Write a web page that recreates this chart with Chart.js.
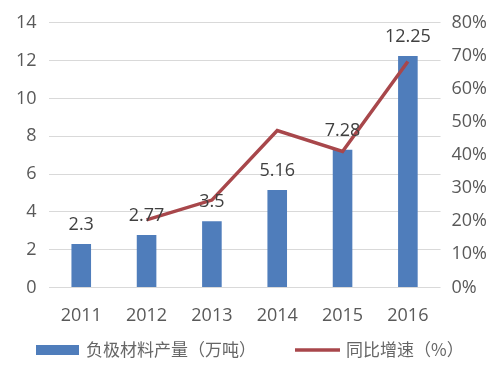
<!DOCTYPE html>
<html>
<head>
<meta charset="utf-8">
<script src="https://cdn.jsdelivr.net/npm/chart.js@4/dist/chart.umd.min.js"></script>
<style>
  html, body { margin: 0; padding: 0; background: #fff; }
  #wrap { width: 504px; height: 367px; }
</style>
</head>
<body>
<div id="wrap"><canvas id="chart" width="504" height="367"></canvas></div>
<script>
var years = ["2011", "2012", "2013", "2014", "2015", "2016"];
var output = [2.3, 2.77, 3.5, 5.16, 7.28, 12.25];
var growth = [null, 20.4, 26.4, 47.4, 41.1, 68.3];
var barName = "负极材料产量（万吨）";
var lineName = "同比增速（%）";

// labels above the bars
var barLabels = {
  id: "barLabels",
  afterDatasetsDraw: function(chart) {
    var ctx = chart.ctx;
    var meta = chart.getDatasetMeta(1);
    ctx.save();
    ctx.font = "18px 'Open Sans', sans-serif";
    ctx.fillStyle = "#404040";
    ctx.textAlign = "center";
    ctx.textBaseline = "middle";
    meta.data.forEach(function(bar, i) {
      ctx.fillText(String(output[i]), bar.x, bar.y - 19);
    });
    ctx.restore();
  }
};

// legend row at the bottom, spaced like the original
var bottomLegend = {
  id: "bottomLegend",
  afterDraw: function(chart) {
    var ctx = chart.ctx;
    var bar = chart.data.datasets[1];
    var line = chart.data.datasets[0];
    var y = 350;
    ctx.save();
    ctx.font = "17px 'Noto Sans CJK SC', sans-serif";
    ctx.textBaseline = "middle";
    ctx.fillStyle = bar.backgroundColor;
    ctx.fillRect(36, y - 5, 43, 10);
    ctx.fillStyle = "#666666";
    ctx.fillText(bar.label, 86, y);
    ctx.strokeStyle = line.borderColor;
    ctx.lineWidth = line.borderWidth;
    ctx.beginPath();
    ctx.moveTo(295, y);
    ctx.lineTo(340, y);
    ctx.stroke();
    ctx.fillText(line.label, 346, y);
    ctx.restore();
  }
};

var tickFont = { family: "'Open Sans', sans-serif", size: 18 };

var ctx = document.getElementById("chart").getContext("2d");
var chart = new Chart(ctx, {
  type: "bar",
  data: {
    labels: years,
    datasets: [
      {
        type: "line",
        label: lineName,
        data: growth,
        yAxisID: "y1",
        borderColor: "#a8474b",
        backgroundColor: "#a8474b",
        borderWidth: 3.5,
        pointRadius: 0,
        tension: 0,
        order: 0
      },
      {
        label: barName,
        data: output,
        yAxisID: "y",
        backgroundColor: "#4f7dbb",
        categoryPercentage: 1,
        barPercentage: 0.3,
        order: 1
      }
    ]
  },
  options: {
    responsive: false,
    animation: false,
    layout: { padding: { left: 4, right: 6, top: 8, bottom: 30 } },
    plugins: {
      tooltip: { enabled: false },
      legend: { display: false }
    },
    scales: {
      x: {
        grid: { display: false },
        border: { display: false },
        ticks: { color: "#595959", font: tickFont, padding: 10 }
      },
      y: {
        position: "left",
        min: 0,
        max: 14,
        ticks: { stepSize: 2, autoSkip: false, color: "#595959", font: tickFont, padding: 12 },
        grid: { color: "#d9d9d9", drawTicks: false },
        border: { display: false }
      },
      y1: {
        position: "right",
        min: 0,
        max: 80,
        ticks: {
          stepSize: 10,
          autoSkip: false,
          color: "#595959",
          font: tickFont,
          padding: 11,
          callback: function(v) { return v + "%"; }
        },
        grid: { display: false, drawTicks: false },
        border: { display: false }
      }
    }
  },
  plugins: [barLabels, bottomLegend]
});
</script>
</body>
</html>
